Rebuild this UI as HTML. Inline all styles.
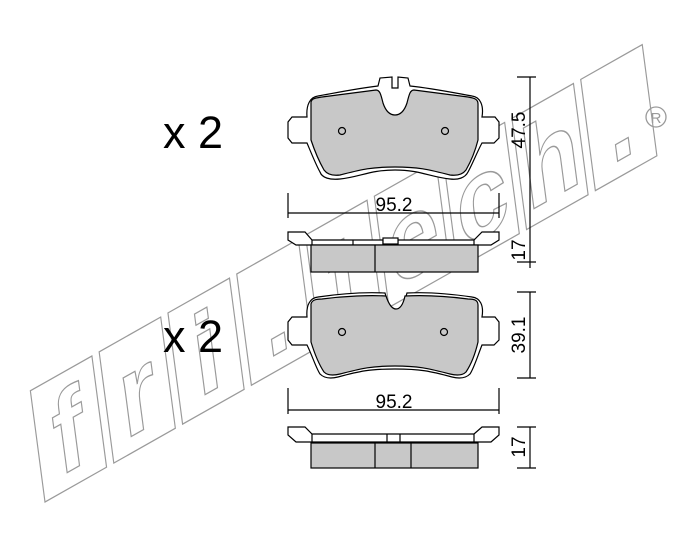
<!DOCTYPE html>
<html><head><meta charset="utf-8"><style>
html,body{margin:0;padding:0;background:#fff;}
svg{display:block;font-family:"Liberation Sans",sans-serif;}
</style></head><body>
<svg width="700" height="545" viewBox="0 0 700 545">
<!-- watermark -->
<g transform="translate(45,502) rotate(-29.5) skewX(-22) scale(1.04)" fill="none" stroke="#9a9a9a" stroke-width="1.2">
  <rect x="0" y="-100" width="68" height="100"/>
  <rect x="76" y="-100" width="68" height="100"/>
  <rect x="152" y="-100" width="68" height="100"/>
  <rect x="228" y="-100" width="68" height="100"/>
  <rect x="304" y="-100" width="68" height="100"/>
  <rect x="380" y="-100" width="68" height="100"/>
  <rect x="456" y="-100" width="68" height="100"/>
  <rect x="532" y="-100" width="68" height="100"/>
  <rect x="608" y="-100" width="68" height="100"/>
  <g font-size="100" font-weight="bold" text-anchor="middle">
    <text x="34" y="-14">f</text>
    <text x="110" y="-14">r</text>
    <text x="186" y="-14">i</text>
    <text x="262" y="-14">.</text>
    <text x="338" y="-14">t</text>
    <text x="414" y="-14">e</text>
    <text x="490" y="-14">c</text>
    <text x="566" y="-14">h</text>
    <text x="642" y="-14">.</text>
  </g>
</g>
<circle cx="656" cy="117" r="10" fill="none" stroke="#9a9a9a" stroke-width="1.3"/>
<text x="656" y="123" font-size="15" text-anchor="middle" fill="#9a9a9a">R</text>

<g fill="#000" font-size="45"><text x="163" y="148">x 2</text><text x="163" y="352">x 2</text></g>

<g stroke="#000" stroke-width="1.2" fill="none">
<!-- pad 1 -->
<path d="M307,117 C306,105 310,97 318,96 C340,92 360,88 378,86 L380,78 L392,77 L392,88 L398,88 L398,77 L408,78 L410,86 C430,88 450,92 472,96 C480,97 484,105 482,117 L495,117 L499,122 L499,138 L494,143 L482,143 C478,150 472,165 468,172 C465,178 458,180 450,179 C430,177 420,170 395,170 C370,170 360,177 340,179 C330,180 322,178 320,172 C316,165 310,150 307,143 L292,143 L288,138 L288,122 L292,117 Z" fill="#fff"/>
<path d="M311,102 C312,98 316,98 322,97 L376,90 C380,90 381,95 383,103 C386,112 390,115 395,115 C400,115 404,112 407,103 C409,95 410,90 414,90 L468,97 C474,98 478,99 478,104 L478,140 C475,152 470,163 466,170 C463,174 458,176 450,175 C430,170 420,167 395,167 C370,167 360,170 340,175 C332,176 327,174 324,170 C320,163 315,152 311,140 Z" fill="#c8c8c8"/>
<circle cx="342" cy="131" r="3.5"/><circle cx="445" cy="131" r="3.5"/>
<!-- dims 1 -->
<path d="M288,193 V218 M499,193 V218 M288,213 H499"/>
<path d="M517,77 H536 M530,77 V268 M517,262 H536"/>
<!-- side 1 -->
<path d="M288,232 H305 L312,240 H474 L482,232 H499 V240 L491,245 H296 L288,240 Z" fill="#fff"/>
<path d="M312,240 V245 M474,240 V245 M353,240 V245 M383,240 V245 M398,240 V245"/>
<rect x="383" y="238" width="15" height="6" fill="#fff"/>
<rect x="311" y="245" width="167" height="27" fill="#c8c8c8"/>
<path d="M375,245 V272"/>
<!-- pad 2 -->
<path d="M307,317 C306,305 310,298 318,297 C345,293 365,292 385,293 L387,300 C390,310 393,313 396,313 C399,313 402,310 405,300 L407,293 C425,292 445,293 472,297 C480,298 484,305 482,317 L495,317 L499,322 L499,340 L494,345 L482,345 C478,355 474,368 470,374 C466,378 460,379 452,377 C430,371 420,369 395,369 C370,369 360,371 338,377 C330,379 324,378 320,374 C316,368 312,355 307,345 L292,345 L288,340 L288,322 L292,317 Z" fill="#fff"/>
<path d="M311,304 C312,300 316,299 322,299 C345,296 370,295 386,296 C389,305 392,309 396,309 C400,309 403,305 405,296 C425,295 445,296 468,299 C474,299 478,300 478,305 L478,342 C475,355 470,366 466,372 C463,375 458,376 450,374 C430,369 420,366 395,366 C370,366 360,369 340,374 C332,376 327,375 324,372 C320,366 315,355 311,342 Z" fill="#c8c8c8"/>
<circle cx="342" cy="332" r="3.5"/><circle cx="444" cy="332" r="3.5"/>
<!-- dims 2 -->
<path d="M288,388 V414 M499,388 V414 M288,410 H499"/>
<path d="M517,292 H536 M530,292 V378 M517,378 H536"/>
<!-- side 2 -->
<path d="M288,427 H305 L312,434 H474 L482,427 H499 V435 L491,442 H296 L288,435 Z" fill="#fff"/>
<path d="M312,434 V442 M474,434 V442 M387,434 V442 M400,434 V442"/>
<rect x="311" y="443" width="167" height="25" fill="#c8c8c8"/>
<path d="M375,443 V468 M411,443 V468"/>
<path d="M517,427 H536 M530,427 V468 M517,468 H536"/>
</g>
<g font-size="19" fill="#000" text-anchor="middle">
<text x="394" y="211">95.2</text>
<text x="394" y="408">95.2</text>
<text transform="translate(525,130) rotate(-90)">47.5</text>
<text transform="translate(525,335) rotate(-90)">39.1</text>
<text transform="translate(525,447) rotate(-90)">17</text>
<text transform="translate(525,250) rotate(-90)">17</text>
</g>
</svg>
</body></html>
